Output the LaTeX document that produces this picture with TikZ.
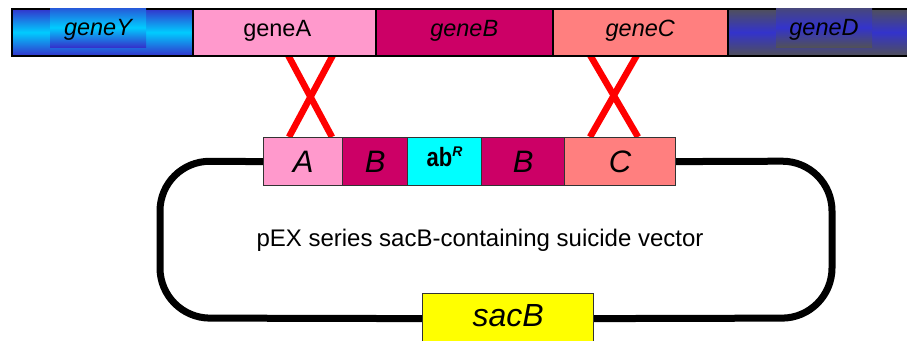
\documentclass[tikz,border=0pt]{standalone}
\usepackage{graphicx}
\usepackage{fontspec}
\setmainfont{Liberation Sans}
\definecolor{gA}{HTML}{FF99CC}
\definecolor{gB}{HTML}{CC0066}
\definecolor{gC}{HTML}{FF7F7F}
\definecolor{dblue}{HTML}{3333CC}
\definecolor{cyanY}{HTML}{00CCFF}
\definecolor{grayD}{HTML}{50505A}
\definecolor{abRc}{HTML}{00FFFF}
\definecolor{sacY}{HTML}{FFFF00}
\begin{document}
\begin{tikzpicture}[x=1pt,y=-1pt,
  genebox/.style={draw=black, line width=1.5pt, minimum height=47pt, inner sep=0pt, anchor=north west, text depth=8pt, font=\fontsize{23.5}{28}\selectfont},
  geneit/.style={genebox, font=\fontsize{23.5}{28}\selectfont\itshape},
  tagbox/.style={inner sep=0pt, minimum width=96pt, minimum height=39pt, text depth=0pt, font=\fontsize{23.5}{28}\selectfont\itshape},
  partbox/.style={draw=black!80, line width=1.2pt, minimum height=48pt, inner sep=0pt, anchor=north west, font=\fontsize{31}{36}\selectfont\itshape},
  cross/.style={red, line width=6.5pt},
  vecline/.style={black, line width=7pt, rounded corners=50pt},
]
\useasboundingbox (0,0) rectangle (907,340);

% crossover lines (behind boxes)
\coordinate (xa1) at (288,55);  \coordinate (xa2) at (332,137);
\coordinate (xa3) at (333,55);  \coordinate (xa4) at (289,137);
\coordinate (xc1) at (590,55);  \coordinate (xc2) at (638,137);
\coordinate (xc3) at (637,55);  \coordinate (xc4) at (590,137);
\draw[cross] (xa1) -- (xa2);
\draw[cross] (xa3) -- (xa4);
\draw[cross] (xc1) -- (xc2);
\draw[cross] (xc3) -- (xc4);

% chromosome bar
\node[genebox, minimum width=181pt, top color=dblue, bottom color=dblue, middle color=cyanY] (barY) at (11,8) {};
\node[tagbox, top color=dblue!75!cyanY, bottom color=dblue, middle color=cyanY] (geneY) at (98,27.5) {geneY};
\node[genebox, minimum width=183pt, fill=gA] (geneA) at (192,8) {\hspace*{-14pt}geneA};
\node[geneit, minimum width=177pt, fill=gB] (geneB) at (375,8) {geneB};
\node[geneit, minimum width=175pt, fill=gC] (geneC) at (552,8) {geneC};
\node[genebox, minimum width=190pt, top color=grayD, bottom color=grayD, middle color=dblue] (barD) at (727,8) {};
\node[tagbox, top color=grayD!70!dblue, bottom color=grayD, middle color=dblue] (geneD) at (824,27.5) {geneD};

% vector parts
\node[partbox, minimum width=79pt, fill=gA] (A) at (263,137) {A};
\node[partbox, minimum width=65pt, fill=gB] (B1) at (342,137) {B};
\node[partbox, minimum width=74pt, fill=abRc, text height=20pt, text depth=10pt, font=\fontsize{22}{24}\selectfont\bfseries] (abR) at (407,137) {\scalebox{1}[1.2]{ab}\raisebox{10pt}{\fontsize{14}{16}\selectfont\bfseries\itshape R}};
\node[partbox, minimum width=83pt, fill=gB] (B2) at (481,137) {B};
\node[partbox, minimum width=111pt, fill=gC] (C) at (564,137) {C};
\node[partbox, minimum width=171pt, minimum height=50pt, fill=sacY, text height=23pt, text depth=8pt, font=\fontsize{32}{36}\selectfont\itshape] (sacB) at (422,293) {sacB};

% vector backbone
\coordinate (lt) at (160,161);
\coordinate (lb) at (160,318);
\coordinate (rt) at (832,161);
\coordinate (rb) at (832,318);
\draw[vecline] (A.west) -- (lt) -- (lb) -- (sacB.west);
\draw[vecline] (C.east) -- (rt) -- (rb) -- (sacB.east);

\node[font=\fontsize{24}{28}\selectfont, inner sep=0pt] (vec) at (480,240) {pEX series sacB-containing suicide vector};
\end{tikzpicture}
\end{document}
